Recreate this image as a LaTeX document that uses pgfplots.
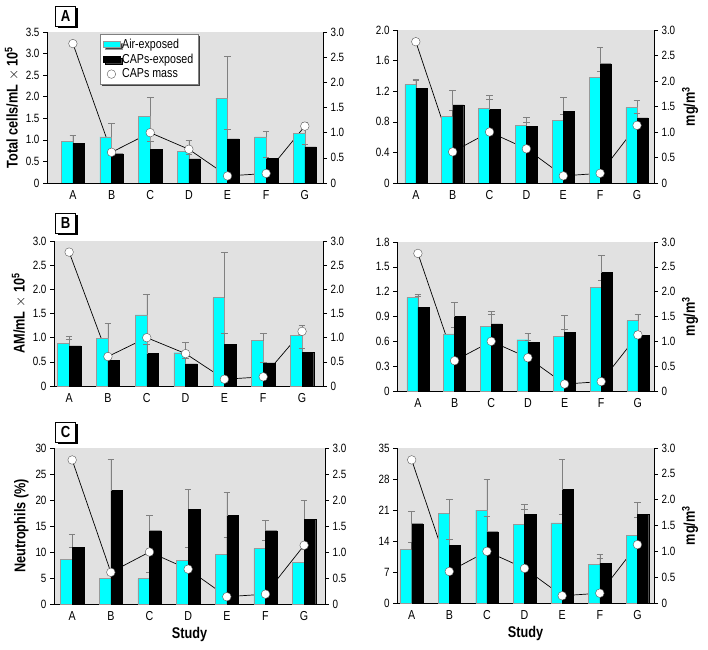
\documentclass[border=0pt]{standalone}
\usepackage{fontspec}
\setmainfont{Liberation Sans}[FakeStretch=0.82]
\usepackage{pgfplots}
\pgfplotsset{compat=1.18}
\usepackage{pgfplotstable}
\usetikzlibrary{shadows}
\definecolor{bg}{RGB}{225,225,225}
\definecolor{aircol}{RGB}{0,255,255}

\pgfplotstableread{
x m
0 2.77
1 0.61
2 1.00
3 0.67
4 0.14
5 0.19
6 1.13
}\mass

\pgfplotstableread{
x air airE caps capsE
0 0.96 0.15 0.92 0.19
1 1.07 0.31 0.68 0.07
2 1.55 0.44 0.78 0.19
3 0.74 0.25 0.56 0.11
4 1.97 0.96 1.02 0.22
5 1.07 0.14 0.57 0.02
6 1.15 0.25 0.84 0.06
}\dataTL

\pgfplotstableread{
x air airE caps capsE
0 1.29 0.07 1.24 0.10
1 0.87 0.08 1.02 0.19
2 0.98 0.17 0.96 0.13
3 0.75 0.11 0.74 0.05
4 0.82 0.08 0.94 0.18
5 1.38 0.08 1.56 0.21
6 0.99 0.09 0.85 0.06
}\dataTR

\pgfplotstableread{
x air airE caps capsE
0 0.88 0.14 0.83 0.14
1 0.99 0.30 0.53 0.07
2 1.47 0.42 0.67 0.19
3 0.69 0.22 0.46 0.11
4 1.83 0.94 0.86 0.23
5 0.94 0.15 0.48 0.02
6 1.05 0.21 0.70 0.09
}\dataML

\pgfplotstableread{
x air airE caps capsE
0 1.13 0.04 1.01 0.13
1 0.69 0.08 0.90 0.17
2 0.78 0.18 0.81 0.12
3 0.62 0.08 0.59 0.02
4 0.66 0.08 0.71 0.20
5 1.25 0.09 1.43 0.21
6 0.85 0.08 0.67 0.05
}\dataMR

\pgfplotstableread{
x air airE caps capsE
0 8.6 2.3 10.9 2.6
1 4.9 1.0 21.8 6.0
2 4.9 1.2 14.1 2.9
3 8.4 2.5 18.2 3.8
4 9.5 3.3 17.0 4.4
5 10.7 1.6 14.1 2.0
6 8.0 2.5 16.3 3.7
}\dataBL

\pgfplotstableread{
x air airE caps capsE
0 12.1 1.6 17.9 2.8
1 20.2 3.3 13.0 1.4
2 21.0 6.9 16.1 3.5
3 17.8 3.3 20.0 2.3
4 18.1 1.9 25.6 6.9
5 8.8 1.3 9.0 2.0
6 15.3 4.0 20.0 2.8
}\dataBR

\pgfplotsset{
  panel/.style={scale only axis, anchor=south west, ymin=0,
    yticklabel style={font=\fontsize{12}{13}\selectfont},
    xticklabel style={font=\fontsize{13}{14}\selectfont},
    label style={font=\fontsize{15.5}{17}\selectfont\bfseries},
    tick align=outside, major tick length=4pt,
    tick style={black, line width=0.5pt},
    axis line style={line width=0.6pt}},
  back/.style={panel, ymax=3, axis x line=none, axis y line*=right,
    ytick={0,0.5,1,1.5,2,2.5,3}, yticklabels={0,0.5,1.0,1.5,2.0,2.5,3.0},
    axis background/.style={fill=bg}},
  front/.style={panel, axis x line*=bottom, axis y line*=left,
    xtick={0,...,6}, xticklabels={A,B,C,D,E,F,G}, xtick style={draw=none}},
  topax/.style={panel, ymax=3, axis lines=none, ticks=none},
  airbar/.style={ybar, bar width=0.3, bar shift=-0.15, fill=aircol, draw=gray!80, line width=0.3pt,
    error bars/.cd, y dir=plus, y explicit, error bar style={gray, line width=0.5pt},
    error mark options={gray, rotate=90, mark size=3.3pt, line width=0.5pt}},
  capsbar/.style={ybar, bar width=0.3, bar shift=0.15, fill=black, draw=black, line width=0.3pt,
    error bars/.cd, y dir=plus, y explicit, error bar style={gray, line width=0.5pt},
    error mark options={gray, rotate=90, mark size=3.3pt, line width=0.5pt}},
  massline/.style={black, line width=0.7pt, mark=none},
  massmark/.style={only marks, mark=*, mark size=4.3pt, mark options={fill=white, draw=gray!70!black, line width=0.4pt}},
}

\newcommand{\panel}[9]{%
  \begin{axis}[back, at={(#1pt,#2pt)}, width=#3pt, height=#4pt, xmin=#5, xmax=#6, #9]
    \addplot[massline] table[x=x,y=m]{\mass};
  \end{axis}
  \begin{axis}[front, at={(#1pt,#2pt)}, width=#3pt, height=#4pt, xmin=#5, xmax=#6, #7]
    \addplot[airbar] table[x=x,y=air,y error=airE]{#8};
    \addplot[capsbar] table[x=x,y=caps,y error=capsE]{#8};
  \end{axis}
  \begin{axis}[topax, at={(#1pt,#2pt)}, width=#3pt, height=#4pt, xmin=#5, xmax=#6]
    \addplot[massmark] table[x=x,y=m]{\mass};
  \end{axis}
}

\tikzset{panellabel/.style={draw=black, fill=white, line width=0.4pt, minimum width=20pt, minimum height=20pt,
  inner sep=0pt, font=\fontsize{16}{16}\selectfont\bfseries,
  drop shadow={shadow xshift=2pt, shadow yshift=-2pt, fill=black, opacity=1}}}

\begin{document}
\begin{tikzpicture}
\useasboundingbox (0,0) rectangle (708pt,649pt);

% Top left
\panel{47}{466}{276}{151}{-0.67}{6.47}{ymax=3.5, ytick={0,0.5,1,1.5,2,2.5,3,3.5},
  yticklabels={0,0.5,1.0,1.5,2.0,2.5,3.0,3.5}, ylabel={Total cells/mL $\times$ 10\textsuperscript{5}}}{\dataTL}{}
\begin{axis}[topax, at={(47pt,466pt)}, width=276pt, height=151pt, xmin=-0.67, xmax=6.47,
  legend style={at={(0.192,0.985)}, anchor=north west, draw=gray, fill=white, line width=0.4pt,
    font=\fontsize{13}{14}\selectfont, row sep=0pt, inner sep=2.5pt,
    drop shadow={shadow xshift=2pt, shadow yshift=-2pt, fill=black!75, opacity=1}},
  legend cell align=left]
  \addlegendimage{area legend, fill=aircol, draw=gray!80}
  \addlegendentry{Air-exposed}
  \addlegendimage{area legend, fill=black, draw=black}
  \addlegendentry{CAPs-exposed}
  \addlegendimage{only marks, mark=*, mark size=4.3pt, mark options={fill=white, draw=gray!70!black, line width=0.4pt}}
  \addlegendentry{CAPs mass}
\end{axis}

% Top right
\panel{397}{466}{257}{153}{-0.51}{6.46}{ymax=2.0, ytick={0,0.4,0.8,1.2,1.6,2.0},
  yticklabels={0,0.4,0.8,1.2,1.6,2.0}}{\dataTR}{ylabel={mg/m\textsuperscript{3}}}

% Middle left
\panel{54}{263}{269}{145}{-0.39}{6.54}{ymax=3.0, ytick={0,0.5,1,1.5,2,2.5,3},
  yticklabels={0,0.5,1.0,1.5,2.0,2.5,3.0}, ylabel={AM/mL $\times$ 10\textsuperscript{5}}}{\dataML}{}

% Middle right
\panel{397}{258}{257}{149}{-0.57}{6.44}{ymax=1.8, ytick={0,0.3,0.6,0.9,1.2,1.5,1.8},
  yticklabels={0,0.3,0.6,0.9,1.2,1.5,1.8}}{\dataMR}{ylabel={mg/m\textsuperscript{3}}}

% Bottom left
\panel{54}{45}{271}{156}{-0.47}{6.54}{ymax=30, ytick={0,5,10,15,20,25,30},
  yticklabels={0,5,10,15,20,25,30}, ylabel={Neutrophils (\%)}, xlabel={Study}}{\dataBL}{}

% Bottom right
\panel{397}{46}{257}{155}{-0.39}{6.44}{ymax=35, ytick={0,7,14,21,28,35},
  yticklabels={0,7,14,21,28,35}, xlabel={Study}}{\dataBR}{ylabel={mg/m\textsuperscript{3}}}

\node[panellabel] at (65.5pt,633pt) {A};
\node[panellabel] at (65.5pt,426pt) {B};
\node[panellabel] at (65.5pt,217pt) {C};
\end{tikzpicture}
\end{document}
